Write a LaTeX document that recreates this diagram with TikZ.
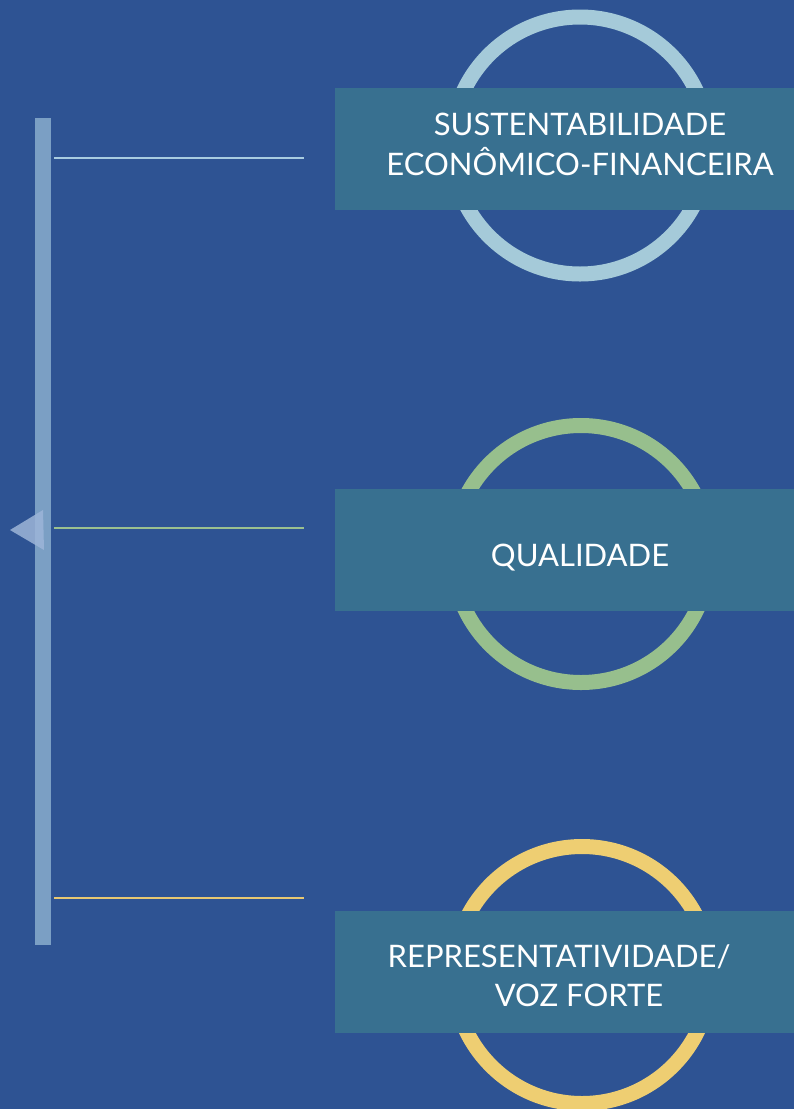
\documentclass[tikz,border=0pt]{standalone}
\usepackage{fontspec}
\setmainfont{Lato}
\definecolor{bg}{HTML}{2E5393}
\definecolor{barc}{HTML}{7B9FC4}
\definecolor{tri}{HTML}{9DB5D8}
\definecolor{boxc}{HTML}{387090}
\definecolor{ringA}{HTML}{A5CAD9}
\definecolor{ringB}{HTML}{97BF8D}
\definecolor{ringC}{HTML}{EECE72}
\definecolor{lineA}{HTML}{A9CCE0}
\definecolor{lineB}{HTML}{9BC08F}
\definecolor{lineC}{HTML}{E8C872}
\tikzset{
  ring/.style={line width=15pt},
  labelbox/.style={fill=boxc, draw=none, minimum width=459pt, minimum height=122pt, anchor=west, inner sep=0pt},
  labeltext/.style={text=white, font=\fontsize{31}{40}\selectfont, align=center, inner sep=0pt},
  conn/.style={line width=2pt},
}
\begin{document}
\begin{tikzpicture}[x=1pt,y=-1pt]
\useasboundingbox (0,0) rectangle (794,1109);
\fill[bg] (0,0) rectangle (794,1109);
% vertical bar
\node[fill=barc, minimum width=16pt, minimum height=827pt, inner sep=0pt, anchor=north west] (bar) at (35,118) {};
% triangle
\fill[tri, opacity=0.85] (10,530) -- (43,510) -- (44,550) -- cycle;
% circles
\draw[ring, ringA] (580,145.5) circle (128.5);
\draw[ring, ringB] (581,554) circle (128.5);
\draw[ring, ringC] (582,975) circle (128.5);
% boxes
\node[labelbox] (b1) at (335,149) {};
\node[labelbox] (b2) at (335,550) {};
\node[labelbox] (b3) at (335,971.5) {};
% texts
\node[labeltext, anchor=base] (t1a) at (580,135) {SUSTENTABILIDADE};
\node[labeltext, anchor=base] (t1b) at (580,175) {ECONÔMICO-FINANCEIRA};
\node[labeltext, anchor=base] (t2) at (580,566) {QUALIDADE};
\node[labeltext, anchor=base] (t3a) at (559,967) {REPRESENTATIVIDADE/};
\node[labeltext, anchor=base] (t3b) at (579,1006) {VOZ FORTE};
% connectors
\coordinate (e1) at (304,158);
\coordinate (e2) at (304,528);
\coordinate (e3) at (304,898);
\draw[conn, lineA] (bar.east |- e1) ++(3,0) -- (e1);
\draw[conn, lineB] (bar.east |- e2) ++(3,0) -- (e2);
\draw[conn, lineC] (bar.east |- e3) ++(3,0) -- (e3);
\end{tikzpicture}
\end{document}
